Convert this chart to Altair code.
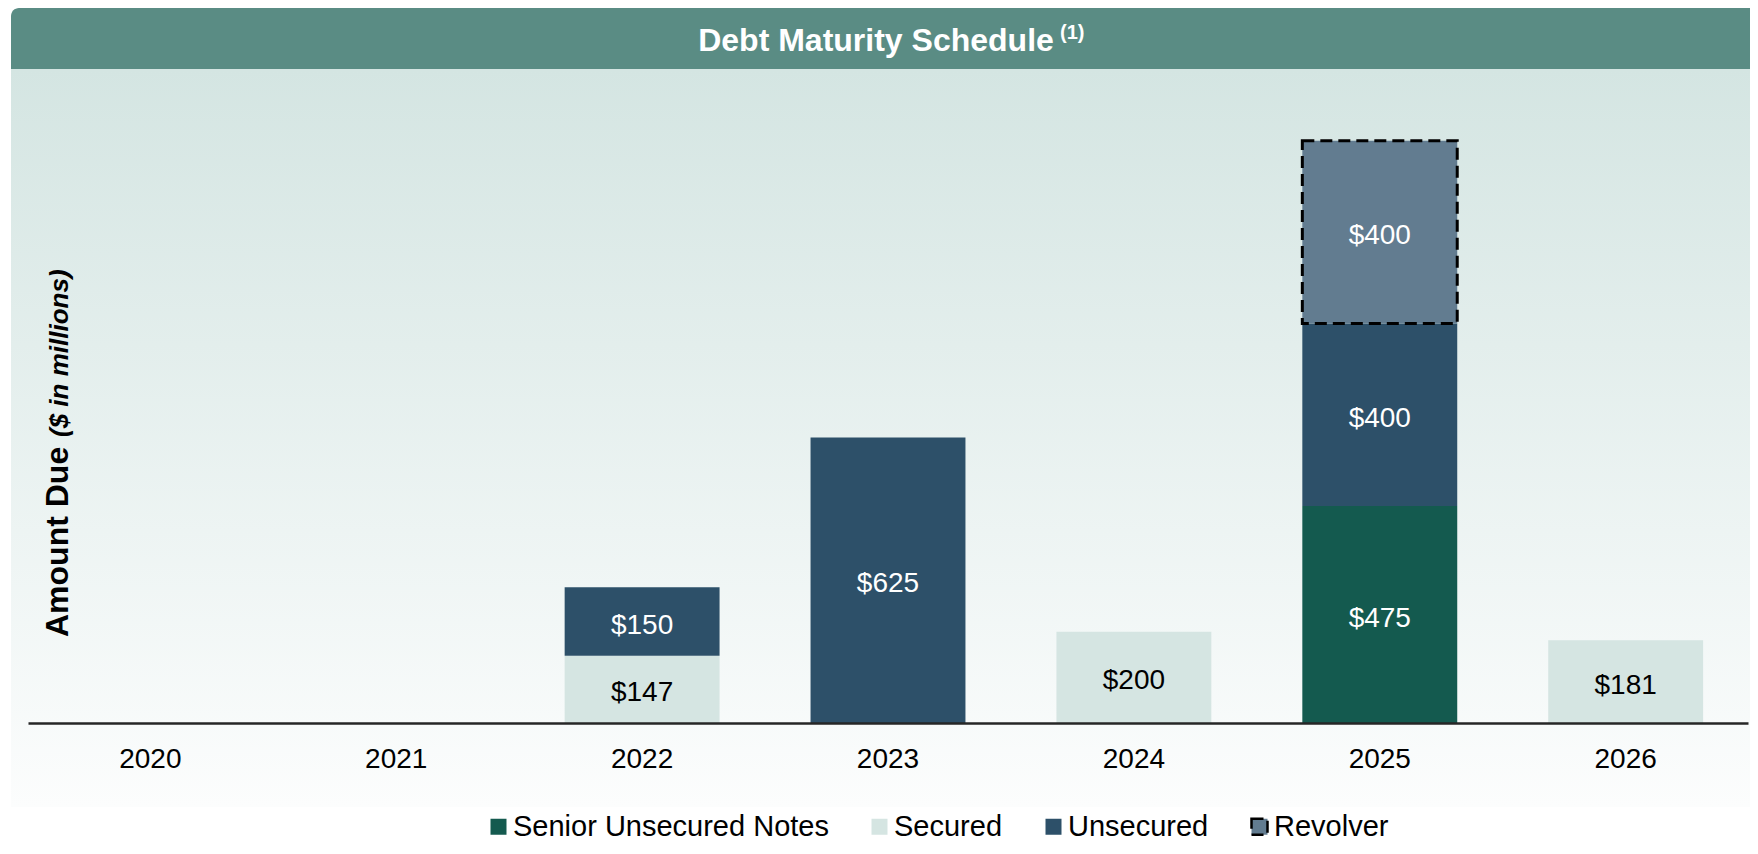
import altair as alt
import pandas as pd

# ---- data ----
years = ["2020", "2021", "2022", "2023", "2024", "2025", "2026"]
series = ["Senior Unsecured Notes", "Secured", "Unsecured", "Revolver"]
senior_notes = [0, 0, 0, 0, 0, 475, 0]
secured = [0, 0, 147, 0, 200, 0, 181]
unsecured = [0, 0, 150, 625, 0, 400, 0]
revolver = [0, 0, 0, 0, 0, 400, 0]
colors = ["#145a4f", "#d5e5e2", "#2d5069", "#627c90"]
strokes = ["transparent", "transparent", "transparent", "#000000"]
dashes = [[1, 0], [1, 0], [1, 0], [12, 6]]

rows = []
for i, (name, vals) in enumerate(zip(series, [senior_notes, secured, unsecured, revolver])):
    for yr, v in zip(years, vals):
        if v > 0:
            rows.append({"year": yr, "series": name, "value": v, "order": i, "label": f"${v}"})
df = pd.DataFrame(rows)

FONT = "Liberation Sans"
W, H = 1720, 654

xscale = alt.Scale(domain=years, paddingInner=0.37, paddingOuter=0.1825)
yscale = alt.Scale(domain=[0, 1432], nice=False, zero=True)

xenc = alt.X(
    "year:N", sort=years, scale=xscale, title=None,
    axis=alt.Axis(labelAngle=0, labelFont=FONT, labelFontSize=28, labelColor="black",
                  ticks=False, tickSize=0, labelPadding=44, labelBaseline="alphabetic",
                  domainColor="#262626", domainWidth=2.5, grid=False, zindex=1),
)

legend = alt.Legend(
    title=None, orient="none", legendX=456, legendY=743, direction="horizontal",
    symbolType="square", symbolSize=256, symbolStrokeWidth=2.5,
    labelFont=FONT, labelFontSize=29, labelColor="black", labelOffset=0,
    columnPadding=36, labelLimit=0, padding=0,
)

base = (
    alt.Chart(df)
    .transform_stack(stack="value", groupby=["year"],
                     sort=[alt.SortField("order", order="ascending")], as_=["y0", "y1"])
    .transform_calculate(mid="(datum.y0 + datum.y1) / 2")
)

bars = base.mark_bar(strokeWidth=3).encode(
    x=xenc,
    y=alt.Y("y0:Q", scale=yscale, axis=None),
    y2="y1:Q",
    color=alt.Color("series:N", scale=alt.Scale(domain=series, range=colors), legend=legend),
    stroke=alt.Stroke("series:N", scale=alt.Scale(domain=series, range=strokes), legend=legend),
    strokeDash=alt.StrokeDash("series:N", scale=alt.Scale(domain=series, range=dashes), legend=legend),
)

labels = base.mark_text(font=FONT, fontSize=28, baseline="middle", dy=4).encode(
    x=xenc,
    y=alt.Y("mid:Q", scale=yscale, axis=None),
    text="label:N",
    color=alt.condition("datum.series === 'Secured'", alt.value("black"), alt.value("white")),
)

one = pd.DataFrame({"k": [0]})
gradient = alt.LinearGradient(
    gradient="linear",
    stops=[alt.GradientStop(color="#d4e5e2", offset=0),
           alt.GradientStop(color="#fcfdfd", offset=1)],
    x1=0, x2=0, y1=0, y2=1,
)
panel = alt.Chart(one).mark_rect(color=gradient).encode(
    x=alt.value(-17), x2=alt.value(1730), y=alt.value(0), y2=alt.value(738)
)
header = alt.Chart(one).mark_rect(color="#5a8c84", cornerRadiusTopLeft=8).encode(
    x=alt.value(-17), x2=alt.value(1730), y=alt.value(-61), y2=alt.value(0)
)
title_main = alt.Chart(one).mark_text(
    text="Debt Maturity Schedule", font=FONT, fontSize=32, fontWeight="bold",
    color="white", align="center", baseline="alphabetic"
).encode(x=alt.value(848), y=alt.value(-18))
title_sup = alt.Chart(one).mark_text(
    text="(1)", font=FONT, fontSize=20, fontWeight="bold",
    color="white", align="left", baseline="alphabetic"
).encode(x=alt.value(1032), y=alt.value(-30))

ylab_main = alt.Chart(one).mark_text(
    text="Amount Due", font=FONT, fontSize=32, fontWeight="bold", color="black",
    angle=270, align="left", baseline="alphabetic"
).encode(x=alt.value(40), y=alt.value(568))
ylab_unit = alt.Chart(one).mark_text(
    text="($ in millions)", font=FONT, fontSize=26, fontWeight="bold", fontStyle="italic",
    color="black", angle=270, align="left", baseline="alphabetic"
).encode(x=alt.value(40), y=alt.value(368))

chart = (
    alt.layer(panel, header, bars, labels, title_main, title_sup, ylab_main, ylab_unit)
    .properties(
        width=W, height=H,
        autosize=alt.AutoSizeParams(type="none"),
        padding={"left": 20, "top": 61, "right": 2, "bottom": 118},
        background="white",
    )
    .configure_view(stroke=None)
)

chart.save("out.html", embed_options={"renderer": "svg", "actions": False})
